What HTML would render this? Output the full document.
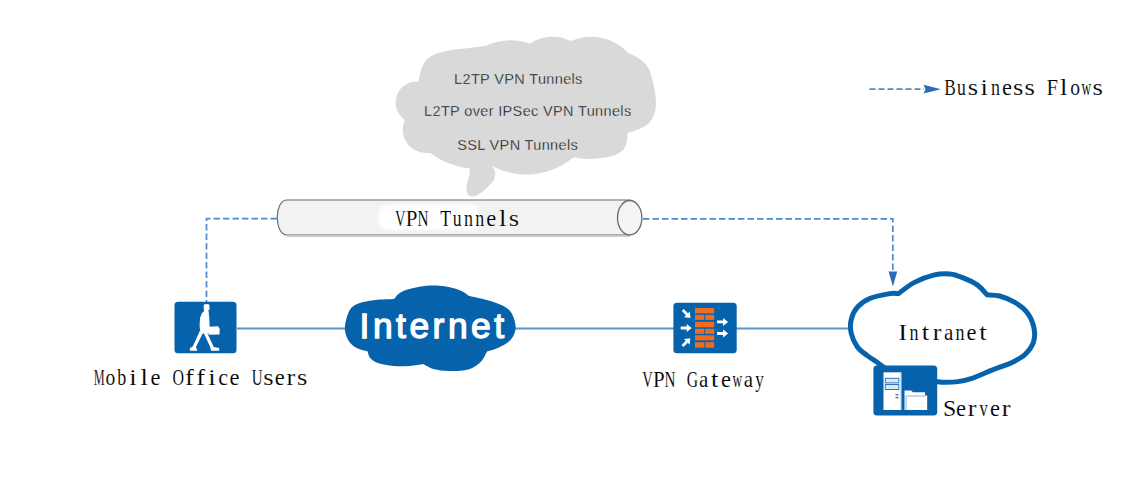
<!DOCTYPE html>
<html><head><meta charset="utf-8">
<style>
html,body{margin:0;padding:0;background:#fff;}
body{width:1138px;height:503px;overflow:hidden;position:relative;}
svg{position:absolute;left:0;top:0;}
.ser{font-family:"Liberation Serif",serif;font-size:20.5px;stroke:#fff;stroke-width:0.12px;}
.mono{font-family:"Liberation Mono",monospace;font-size:19.15px;fill:#000;stroke:#fff;stroke-width:0.22px;}
.sans{font-family:"Liberation Sans",sans-serif;font-size:14.5px;letter-spacing:0.35px;fill:#111;stroke:#d9d9d9;stroke-width:0.3px;}
</style></head>
<body>
<svg width="1138" height="503" viewBox="0 0 1138 503">
  <!-- gray callout cloud -->
  <path d="M418.60 81.70 C418.92 80.08 419.52 75.20 420.50 72.00 C421.48 68.80 422.58 65.25 424.50 62.50 C426.42 59.75 428.58 57.38 432.00 55.50 C435.42 53.62 440.00 52.32 445.00 51.20 C450.00 50.08 455.27 49.68 462.00 48.80 C468.73 47.92 481.50 46.38 485.40 45.90 A61.27 61.27 0 0 1 530.10 43.60 A40.73 40.73 0 0 1 570.70 41.00 A50.43 50.43 0 0 1 628.10 52.90 C629.78 53.73 634.97 55.63 638.20 57.90 C641.43 60.17 645.03 62.48 647.50 66.50 C649.97 70.52 651.62 76.42 653.00 82.00 C654.38 87.58 655.55 94.75 655.80 100.00 C656.05 105.25 655.72 109.58 654.50 113.50 C653.28 117.42 651.25 120.83 648.50 123.50 C645.75 126.17 641.52 127.90 638.00 129.50 C634.48 131.10 629.17 132.50 627.40 133.10 C627.30 134.42 627.45 138.27 626.80 141.00 C626.15 143.73 625.63 147.08 623.50 149.50 C621.37 151.92 618.25 153.98 614.00 155.50 C609.75 157.02 603.00 158.05 598.00 158.60 C593.00 159.15 588.05 159.02 584.00 158.80 C579.95 158.58 575.42 157.55 573.70 157.30 A73.63 73.63 0 0 1 491.40 165.80 C491.92 166.50 493.87 168.47 494.50 170.00 C495.13 171.53 495.35 173.25 495.20 175.00 C495.05 176.75 494.78 178.57 493.60 180.50 C492.42 182.43 489.93 184.72 488.10 186.60 C486.27 188.48 484.42 190.40 482.60 191.80 C480.78 193.20 479.02 194.23 477.20 195.00 C475.38 195.77 473.35 196.67 471.70 196.40 C470.05 196.13 468.18 194.93 467.30 193.40 C466.42 191.87 466.30 189.33 466.40 187.20 C466.50 185.07 467.38 182.80 467.90 180.60 C468.42 178.40 469.15 176.00 469.50 174.00 C469.85 172.00 469.92 169.50 470.00 168.60 A82.17 82.17 0 0 1 429.80 152.70 A23.27 23.27 0 0 1 404.90 119.90 A20.91 20.91 0 0 1 418.60 81.70 Z" fill="#d9d9d9"/>
  <text class="sans" x="518.4" y="84" text-anchor="middle">L2TP VPN Tunnels</text>
  <text class="sans" x="527.8" y="116.3" text-anchor="middle">L2TP over IPSec VPN Tunnels</text>
  <text class="sans" x="517.7" y="149.8" text-anchor="middle">SSL VPN Tunnels</text>

  <!-- dashed business flows -->
  <g stroke="#4f8bc8" stroke-width="1.7" fill="none" stroke-dasharray="6.5,3">
    <path d="M277 218.6 H206.5 V305"/>
    <path d="M643 218.9 H892.8 V272"/>
  </g>
  <path d="M888.6 271.5 L897.2 271.5 L892.9 286.5 Z" fill="#2a6db5"/>

  <!-- tunnel tube -->
  <path d="M287 200 H630 V235 H287 C274 235 274 200 287 200 Z" fill="#f2f2f2" stroke="#6a6a6a" stroke-width="1.15"/>
  <line x1="287" y1="236.3" x2="630" y2="236.3" stroke="#d0d0d0" stroke-width="1.4"/>
  <defs><filter id="bl" x="-20%" y="-50%" width="140%" height="200%"><feGaussianBlur stdDeviation="1.2"/></filter></defs>
  <rect x="378.5" y="204.5" width="101" height="25.5" rx="9" fill="#fff" filter="url(#bl)"/>
  <ellipse cx="629.7" cy="217.7" rx="12.2" ry="17.2" fill="#f4f4f4" stroke="#6a6a6a" stroke-width="1.3"/>
  <g class="ser" fill="#000"><text transform="translate(400.30,225.70) scale(0.711,1.080)" text-anchor="middle">V</text><text transform="translate(411.67,225.70) scale(1.021,1.080)" text-anchor="middle">P</text><text transform="translate(423.03,225.70) scale(0.742,1.080)" text-anchor="middle">N</text><text transform="translate(445.76,225.70) scale(0.864,1.080)" text-anchor="middle">T</text><text transform="translate(457.12,225.70) scale(0.862,1.080)" text-anchor="middle">u</text><text transform="translate(468.49,225.70) scale(0.877,1.080)" text-anchor="middle">n</text><text transform="translate(479.86,225.70) scale(0.877,1.080)" text-anchor="middle">n</text><text transform="translate(491.22,225.70) scale(1.094,1.080)" text-anchor="middle">e</text><text transform="translate(502.59,225.70) scale(1.300,1.080)" text-anchor="middle">l</text><text transform="translate(513.95,225.70) scale(1.298,1.080)" text-anchor="middle">s</text></g>

  <!-- main line -->
  <line x1="237" y1="328.4" x2="852" y2="328.4" stroke="#5b95c8" stroke-width="2"/>

  <!-- internet cloud -->
  <path d="M394.00 298.90 C395.27 297.73 397.35 293.92 401.60 291.90 C405.85 289.88 413.22 287.82 419.50 286.80 C425.78 285.78 432.68 285.28 439.30 285.80 C445.92 286.32 454.22 288.22 459.20 289.90 C464.18 291.58 467.53 294.90 469.20 295.90 C472.17 296.57 481.37 298.25 487.00 299.90 C492.63 301.55 498.85 303.48 503.00 305.80 C507.15 308.12 509.80 310.15 511.90 313.80 C514.00 317.45 515.77 323.40 515.60 327.70 C515.43 332.00 513.67 336.28 510.90 339.60 C508.13 342.92 502.98 345.60 499.00 347.60 C495.02 349.60 489.00 350.93 487.00 351.60 C486.02 353.25 484.07 358.57 481.10 361.50 C478.13 364.43 474.50 367.62 469.20 369.20 C463.90 370.78 455.27 371.03 449.30 371.00 C443.33 370.97 437.72 370.17 433.40 369.00 C429.08 367.83 425.07 364.83 423.40 364.00 C421.08 364.33 414.47 365.67 409.50 366.00 C404.53 366.33 398.90 366.50 393.60 366.00 C388.30 365.50 381.67 364.42 377.70 363.00 C373.73 361.58 371.45 359.40 369.80 357.50 C368.15 355.60 368.13 352.58 367.80 351.60 C365.80 350.93 359.12 349.60 355.80 347.60 C352.48 345.60 349.72 343.03 347.90 339.60 C346.08 336.17 344.57 331.97 344.90 327.00 C345.23 322.03 347.42 313.82 349.90 309.80 C352.38 305.78 355.50 304.55 359.80 302.90 C364.10 301.25 370.00 300.57 375.70 299.90 C381.40 299.23 390.95 299.07 394.00 298.90 Z" fill="#0662ab"/>
  <text x="433.6" y="338.2" text-anchor="middle" fill="#fff" stroke="#fff" stroke-width="1.3" style="font-family:'Liberation Sans',sans-serif;font-size:35.4px;letter-spacing:3.5px;">Internet</text>

  <!-- intranet cloud outline -->
  <path d="M898.40 293.60 C901.08 291.73 908.50 285.52 914.50 282.40 C920.50 279.28 928.48 276.30 934.40 274.90 C940.32 273.50 945.40 273.58 950.00 274.00 C954.60 274.42 957.47 275.58 962.00 277.40 C966.53 279.22 973.02 282.00 977.20 284.90 C981.38 287.80 985.45 293.15 987.10 294.80 C989.18 295.00 995.03 294.77 999.60 296.00 C1004.17 297.23 1009.95 299.50 1014.50 302.20 C1019.05 304.90 1023.68 308.05 1026.90 312.20 C1030.12 316.35 1032.70 322.13 1033.80 327.10 C1034.90 332.07 1034.97 337.43 1033.50 342.00 C1032.03 346.57 1028.58 351.08 1025.00 354.50 C1021.42 357.92 1016.83 360.17 1012.00 362.50 C1007.17 364.83 998.67 367.50 996.00 368.50 C994.17 369.25 989.00 371.37 985.00 373.00 C981.00 374.63 976.50 376.87 972.00 378.30 C967.50 379.73 962.67 380.93 958.00 381.60 C953.33 382.27 948.67 382.40 944.00 382.30 C939.33 382.20 936.50 381.22 930.00 381.00 C923.50 380.78 914.00 384.25 905.00 381.00 C896.00 377.75 880.83 364.75 876.00 361.50 C874.55 360.52 870.40 358.02 867.30 355.60 C864.20 353.18 860.08 350.72 857.40 347.00 C854.72 343.28 852.23 337.87 851.20 333.30 C850.17 328.73 850.17 323.95 851.20 319.60 C852.23 315.25 854.30 310.72 857.40 307.20 C860.50 303.68 864.42 300.77 869.80 298.50 C875.18 296.23 884.93 294.42 889.70 293.60 C894.47 292.78 896.95 293.60 898.40 293.60 Z" fill="#fff" stroke="#0662ab" stroke-width="5"/>
  <g class="ser" fill="#000"><text transform="translate(902.59,339.60) scale(1.300,1.080)" text-anchor="middle">I</text><text transform="translate(914.08,339.60) scale(0.877,1.080)" text-anchor="middle">n</text><text transform="translate(925.56,339.60) scale(1.300,1.080)" text-anchor="middle">t</text><text transform="translate(937.05,339.60) scale(1.283,1.080)" text-anchor="middle">r</text><text transform="translate(948.54,339.60) scale(1.025,1.080)" text-anchor="middle">a</text><text transform="translate(960.03,339.60) scale(0.877,1.080)" text-anchor="middle">n</text><text transform="translate(971.52,339.60) scale(1.094,1.080)" text-anchor="middle">e</text><text transform="translate(983.01,339.60) scale(1.300,1.080)" text-anchor="middle">t</text></g>

  <!-- user icon -->
  <rect x="174.5" y="301.8" width="62" height="51.5" rx="3.5" fill="#0662ab"/>
  <g fill="#fff">
    <path d="M204 304.5 Q206.5 303.6 209.2 304.5 L209.6 309.5 L207.8 311 L204 311 L203.6 306 Z"/>
    <path d="M204.2 311 L208.6 311 L209.3 318 L209.6 326.5 L208.8 333.5 L200.5 333.5 L199.6 326 L200 318 L202 313 Z"/>
    <path d="M208.2 326.8 L218 326.2 L219.8 329 L219.4 334.6 L208.6 334.8 Z"/>
    <path d="M199.8 331 L203.2 332.3 L196 347 L197.4 350.8 L190 350.8 L189.8 348.2 L192.9 346.3 Z"/>
    <path d="M203.8 333 L207.2 333 L213.8 347 L219.2 348 L219.2 350.8 L211 350.8 L210.4 347.6 Z"/>
  </g>

  <!-- gateway icon -->
  <rect x="673.4" y="302.8" width="63.3" height="50.4" rx="3.5" fill="#0662ab"/>
  <g fill="#ee6c22">
    <rect x="695" y="308" width="19.2" height="5.4"/>
    <rect x="695" y="314.9" width="9.3" height="5"/>
    <rect x="705.3" y="314.9" width="8.9" height="5"/>
    <rect x="695" y="321.9" width="19.2" height="5.4"/>
    <rect x="695" y="328.8" width="9.3" height="5"/>
    <rect x="705.3" y="328.8" width="8.9" height="5"/>
    <rect x="695" y="335.3" width="19.2" height="5"/>
    <rect x="695" y="342.2" width="9.3" height="5.5"/>
    <rect x="705.3" y="342.2" width="8.9" height="5.5"/>
  </g>
  <g fill="#fff">
    <path id="arr" d="M-5.5 -1.4 H0.5 V-4 L5.5 0 L0.5 4 V1.4 H-5.5 Z" transform="translate(686.2,328)"/>
    <path d="M-5.5 -1.4 H0.5 V-4 L5.5 0 L0.5 4 V1.4 H-5.5 Z" transform="translate(686.6,314) rotate(45)"/>
    <path d="M-5.5 -1.4 H0.5 V-4 L5.5 0 L0.5 4 V1.4 H-5.5 Z" transform="translate(686.4,342.2) rotate(-45)"/>
    <path d="M-5.5 -1.4 H0.5 V-4 L5.5 0 L0.5 4 V1.4 H-5.5 Z" transform="translate(722.6,321.9)"/>
    <path d="M-5.5 -1.4 H0.5 V-4 L5.5 0 L0.5 4 V1.4 H-5.5 Z" transform="translate(722.6,333.5)"/>
  </g>

  <!-- server icon -->
  <rect x="873.4" y="365.5" width="63.8" height="50" rx="3.5" fill="#0662ab"/>
  <rect x="883.5" y="372.3" width="17.5" height="37.7" fill="#fff"/>
  <rect x="900.6" y="372.3" width="1.2" height="37.7" fill="#8db6de"/>
  <rect x="885.3" y="378.3" width="13.5" height="4.6" fill="#dce8f4" stroke="#2f78bd" stroke-width="1"/>
  <rect x="885.3" y="384.5" width="13.5" height="5" fill="#dce8f4" stroke="#2f78bd" stroke-width="1"/>
  <rect x="895.5" y="394.2" width="3" height="1.3" fill="#2f78bd"/>
  <rect x="895.5" y="397" width="3" height="1.3" fill="#2f78bd"/>
  <path d="M904.5 410 V390.5 H911 L913 392.2 H925 V395.5 H927.2 V410 Z" fill="#fff"/>
  <path d="M906 410 L906 396 H925.5" fill="none" stroke="#6a9fd0" stroke-width="0.8"/>

  <g class="ser" fill="#000"><text transform="translate(99.20,384.70) scale(0.599,1.080)" text-anchor="middle">M</text><text transform="translate(110.47,384.70) scale(0.955,1.080)" text-anchor="middle">o</text><text transform="translate(121.75,384.70) scale(0.877,1.080)" text-anchor="middle">b</text><text transform="translate(133.02,384.70) scale(1.300,1.080)" text-anchor="middle">i</text><text transform="translate(144.30,384.70) scale(1.300,1.080)" text-anchor="middle">l</text><text transform="translate(155.57,384.70) scale(1.094,1.080)" text-anchor="middle">e</text><text transform="translate(178.12,384.70) scale(0.777,1.080)" text-anchor="middle">O</text><text transform="translate(189.40,384.70) scale(1.291,1.080)" text-anchor="middle">f</text><text transform="translate(200.67,384.70) scale(1.291,1.080)" text-anchor="middle">f</text><text transform="translate(211.95,384.70) scale(1.300,1.080)" text-anchor="middle">i</text><text transform="translate(223.22,384.70) scale(1.080,1.080)" text-anchor="middle">c</text><text transform="translate(234.50,384.70) scale(1.094,1.080)" text-anchor="middle">e</text><text transform="translate(257.05,384.70) scale(0.732,1.080)" text-anchor="middle">U</text><text transform="translate(268.32,384.70) scale(1.298,1.080)" text-anchor="middle">s</text><text transform="translate(279.60,384.70) scale(1.094,1.080)" text-anchor="middle">e</text><text transform="translate(290.88,384.70) scale(1.283,1.080)" text-anchor="middle">r</text><text transform="translate(302.15,384.70) scale(1.298,1.080)" text-anchor="middle">s</text></g>
  <g class="ser" fill="#000"><text transform="translate(647.60,387.40) scale(0.711,1.080)" text-anchor="middle">V</text><text transform="translate(658.81,387.40) scale(1.021,1.080)" text-anchor="middle">P</text><text transform="translate(670.01,387.40) scale(0.742,1.080)" text-anchor="middle">N</text><text transform="translate(692.42,387.40) scale(0.766,1.080)" text-anchor="middle">G</text><text transform="translate(703.62,387.40) scale(1.025,1.080)" text-anchor="middle">a</text><text transform="translate(714.83,387.40) scale(1.300,1.080)" text-anchor="middle">t</text><text transform="translate(726.04,387.40) scale(1.094,1.080)" text-anchor="middle">e</text><text transform="translate(737.24,387.40) scale(0.653,1.080)" text-anchor="middle">w</text><text transform="translate(748.45,387.40) scale(1.025,1.080)" text-anchor="middle">a</text><text transform="translate(759.65,387.40) scale(0.837,1.080)" text-anchor="middle">y</text></g>
  <g class="ser" fill="#000"><text transform="translate(949.60,416.40) scale(1.165,1.080)" text-anchor="middle">S</text><text transform="translate(960.92,416.40) scale(1.094,1.080)" text-anchor="middle">e</text><text transform="translate(972.24,416.40) scale(1.283,1.080)" text-anchor="middle">r</text><text transform="translate(983.56,416.40) scale(0.810,1.080)" text-anchor="middle">v</text><text transform="translate(994.88,416.40) scale(1.094,1.080)" text-anchor="middle">e</text><text transform="translate(1006.20,416.40) scale(1.283,1.080)" text-anchor="middle">r</text></g>

  <!-- legend -->
  <path d="M869.5 89.2 H924" stroke="#4f8bc8" stroke-width="1.7" stroke-dasharray="6,3"/>
  <path d="M923.5 84.8 L941 89.2 L923.5 93.6 L925.5 89.2 Z" fill="#2a6db5"/>
  <g class="ser" fill="#000"><text transform="translate(950.10,95.30) scale(0.844,1.080)" text-anchor="middle">B</text><text transform="translate(961.46,95.30) scale(0.862,1.080)" text-anchor="middle">u</text><text transform="translate(972.82,95.30) scale(1.298,1.080)" text-anchor="middle">s</text><text transform="translate(984.17,95.30) scale(1.300,1.080)" text-anchor="middle">i</text><text transform="translate(995.53,95.30) scale(0.877,1.080)" text-anchor="middle">n</text><text transform="translate(1006.89,95.30) scale(1.094,1.080)" text-anchor="middle">e</text><text transform="translate(1018.25,95.30) scale(1.298,1.080)" text-anchor="middle">s</text><text transform="translate(1029.60,95.30) scale(1.298,1.080)" text-anchor="middle">s</text><text transform="translate(1052.32,95.30) scale(1.013,1.080)" text-anchor="middle">F</text><text transform="translate(1063.68,95.30) scale(1.300,1.080)" text-anchor="middle">l</text><text transform="translate(1075.03,95.30) scale(0.955,1.080)" text-anchor="middle">o</text><text transform="translate(1086.39,95.30) scale(0.653,1.080)" text-anchor="middle">w</text><text transform="translate(1097.75,95.30) scale(1.298,1.080)" text-anchor="middle">s</text></g>
</svg>
</body></html>
